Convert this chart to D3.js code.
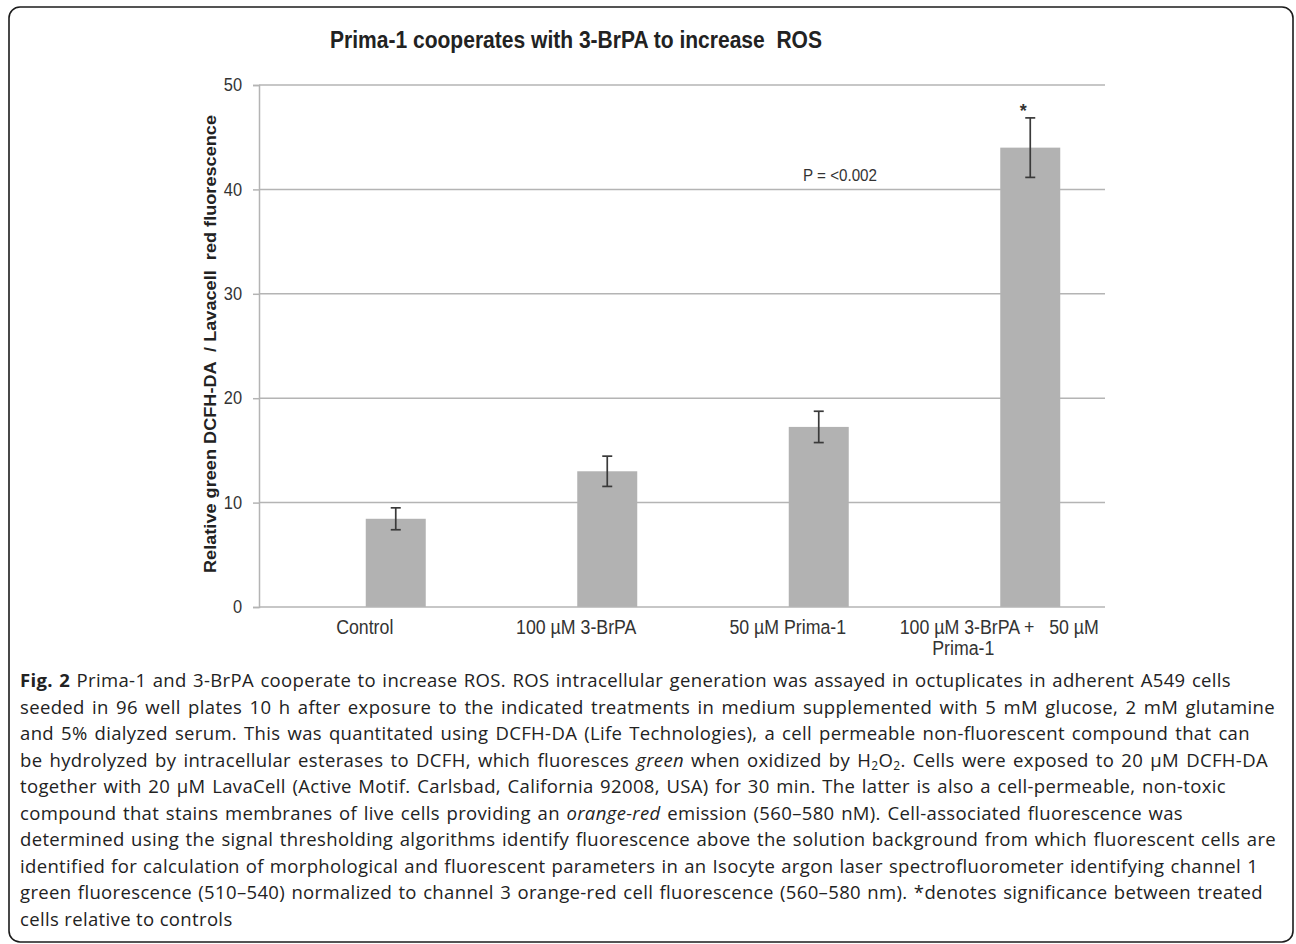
<!DOCTYPE html>
<html>
<head>
<meta charset="utf-8">
<script src="https://cdn.jsdelivr.net/npm/d3@7"></script>
<style>
  body { margin: 0; background: #fff; }
  svg { display: block; }
  svg text { white-space: pre; }
</style>
</head>
<body>
<div id="chart"></div>
<script>
// chart values
const categories = ["Control", "100 µM 3-BrPA", "50 µM Prima-1", "100 µM 3-BrPA +  50 µM Prima-1"];
const categoryLines = [["Control"], ["100 µM 3-BrPA"], ["50 µM Prima-1"], ["100 µM 3-BrPA +   50 µM", "Prima-1"]];
const means = [8.45, 13.0, 17.25, 44.0];
const errors = [1.05, 1.45, 1.5, 2.85];
const significant = [false, false, false, true];
const yTicks = [0, 10, 20, 30, 40, 50];

const titleText = "Prima-1 cooperates with 3-BrPA to increase  ROS";
const yLabelText = "Relative green DCFH-DA  / Lavacell  red fluorescence";
const pText = "P = <0.002";

// caption, one entry per printed line: [text, style]
const captionLines = [
  [["Fig. 2", "b"], [" Prima-1 and 3-BrPA cooperate to increase ROS. ROS intracellular generation was assayed in octuplicates in adherent A549 cells", ""]],
  [["seeded in 96 well plates 10 h after exposure to the indicated treatments in medium supplemented with 5 mM glucose, 2 mM glutamine", ""]],
  [["and 5% dialyzed serum. This was quantitated using DCFH-DA (Life Technologies), a cell permeable non-fluorescent compound that can", ""]],
  [["be hydrolyzed by intracellular esterases to DCFH, which fluoresces ", ""], ["green", "i"], [" when oxidized by H", ""], ["2", "sub"], ["O", ""], ["2", "sub"], [". Cells were exposed to 20 µM DCFH-DA", ""]],
  [["together with 20 µM LavaCell (Active Motif. Carlsbad, California 92008, USA) for 30 min. The latter is also a cell-permeable, non-toxic", ""]],
  [["compound that stains membranes of live cells providing an ", ""], ["orange-red", "i"], [" emission (560–580 nM). Cell-associated fluorescence was", ""]],
  [["determined using the signal thresholding algorithms identify fluorescence above the solution background from which fluorescent cells are", ""]],
  [["identified for calculation of morphological and fluorescent parameters in an Isocyte argon laser spectrofluorometer identifying channel 1", ""]],
  [["green fluorescence (510–540) normalized to channel 3 orange-red cell fluorescence (560–580 nm). *denotes significance between treated", ""]],
  [["cells relative to controls", ""]]
];
// right end of each caption line in the figure (null = natural width)
const captionEnds = [1231, 1275, 1250, 1268, 1226, 1183, 1276, 1258, 1263, null];

const W = 1296, H = 944;
const plot = { left: 259, right: 1105, top: 85, bottom: 607 };
const barWidth = 60;
const barShift = 31;   // bars sit right of the label slots in the original
const squeeze = 0.91;  // the chart image is stretched vertically, so its text looks narrow

const svg = d3.select("#chart").append("svg")
  .attr("width", W)
  .attr("height", H);

// squeeze text horizontally to mimic the stretched original
function narrowText(sel, ratio, target) {
  sel.each(function () {
    const w = target || this.getComputedTextLength() * ratio;
    d3.select(this).attr("textLength", w).attr("lengthAdjust", "spacingAndGlyphs");
  });
}

// rounded frame
svg.append("rect")
  .attr("x", 9).attr("y", 7)
  .attr("width", 1284).attr("height", 935)
  .attr("rx", 11)
  .attr("fill", "none")
  .attr("stroke", "#1c1c1c")
  .attr("stroke-width", 1.6);

const x = d3.scaleBand()
  .domain(categories)
  .range([plot.left, plot.right]);

const y = d3.scaleLinear()
  .domain([0, 50])
  .range([plot.bottom, plot.top]);

const arial = "'Liberation Sans', Arial, sans-serif";

// title
svg.append("text")
  .attr("x", 330)
  .attr("y", 48)
  .style("font-family", arial)
  .style("font-weight", "bold")
  .style("font-size", "23px")
  .attr("fill", "#222")
  .text(titleText)
  .call(narrowText, squeeze, 492);

// gridlines
svg.append("g")
  .selectAll("line")
  .data(yTicks.filter(d => d > 0))
  .join("line")
  .attr("x1", plot.left).attr("x2", plot.right)
  .attr("y1", d => y(d)).attr("y2", d => y(d))
  .attr("stroke", "#b4b4b4")
  .attr("stroke-width", 1.5);

// y axis
const yAxis = svg.append("g")
  .attr("transform", `translate(${plot.left},0)`)
  .call(d3.axisLeft(y).tickValues(yTicks).tickSize(6).tickPadding(11));
yAxis.select(".domain").attr("stroke", "#b4b4b4").attr("stroke-width", 1.5);
yAxis.selectAll(".tick line").attr("stroke", "#b4b4b4").attr("stroke-width", 1.5);
yAxis.selectAll(".tick text")
  .style("font-family", arial)
  .style("font-size", "18px")
  .attr("fill", "#333")
  .call(narrowText, squeeze);

// y label
svg.append("text")
  .attr("transform", `translate(216,344) rotate(-90)`)
  .attr("x", -229)
  .style("font-family", arial)
  .style("font-weight", "bold")
  .style("font-size", "16.5px")
  .attr("fill", "#222")
  .text(yLabelText)
  .call(narrowText, squeeze, 458);

// bars
const bx = d => x(d) + (x.bandwidth() - barWidth) / 2 + barShift;
const cx = d => bx(d) + barWidth / 2;

svg.append("g")
  .selectAll("rect")
  .data(categories)
  .join("rect")
  .attr("x", d => bx(d))
  .attr("y", (d, i) => y(means[i]))
  .attr("width", barWidth)
  .attr("height", (d, i) => y(0) - y(means[i]))
  .attr("fill", "#b2b2b2");

// baseline on top of bars
svg.append("line")
  .attr("x1", plot.left).attr("x2", plot.right)
  .attr("y1", y(0)).attr("y2", y(0))
  .attr("stroke", "#b4b4b4")
  .attr("stroke-width", 1.5);

// error bars
const eg = svg.append("g").attr("stroke", "#3a3a3a").attr("stroke-width", 1.7);
categories.forEach((c, i) => {
  const top = y(means[i] + errors[i]), bot = y(means[i] - errors[i]);
  eg.append("line").attr("x1", cx(c)).attr("x2", cx(c)).attr("y1", top).attr("y2", bot);
  eg.append("line").attr("x1", cx(c) - 5).attr("x2", cx(c) + 5).attr("y1", top).attr("y2", top);
  eg.append("line").attr("x1", cx(c) - 5).attr("x2", cx(c) + 5).attr("y1", bot).attr("y2", bot);
});

// significance star
svg.append("g")
  .selectAll("text")
  .data(categories.filter((c, i) => significant[i]))
  .join("text")
  .attr("x", d => cx(d) - 7)
  .attr("y", d => y(means[categories.indexOf(d)] + errors[categories.indexOf(d)]) - 1)
  .attr("text-anchor", "middle")
  .style("font-family", arial)
  .style("font-weight", "bold")
  .style("font-size", "18px")
  .attr("fill", "#333")
  .text("*");

// p value note
svg.append("text")
  .attr("x", 803)
  .attr("y", 181)
  .style("font-family", arial)
  .style("font-size", "16.5px")
  .attr("fill", "#333")
  .text(pText)
  .call(narrowText, squeeze, 74);

// category labels
const lab = svg.append("g")
  .style("font-family", arial)
  .style("font-size", "19.5px")
  .attr("fill", "#333");
categories.forEach((c, i) => {
  categoryLines[i].forEach((ln, j) => {
    lab.append("text")
      .attr("x", x(c) + x.bandwidth() / 2 - (j > 0 ? 36 : 0))
      .attr("y", 634 + j * 21)
      .attr("text-anchor", "middle")
      .text(ln)
      .call(narrowText, squeeze);
  });
});

// caption
const cap = svg.append("g")
  .style("font-family", "'Open Sans', 'Noto Sans', sans-serif")
  .style("font-size", "18.5px")
  .style("letter-spacing", "0.35px")
  .attr("fill", "#222");
captionLines.forEach((segs, i) => {
  const t = cap.append("text")
    .attr("x", 20)
    .attr("y", 687 + i * 26.5);
  segs.forEach(([s, st]) => {
    const sp = t.append("tspan").text(s);
    if (st === "b") sp.style("font-weight", "bold");
    if (st === "i") sp.style("font-style", "italic");
    if (st === "sub") sp.style("font-size", "12px").attr("baseline-shift", "-3");
  });
  if (captionEnds[i] != null) {
    const natural = t.node().getComputedTextLength();
    const spaces = segs.map(s => s[0]).join("").split(" ").length - 1;
    t.style("word-spacing", ((captionEnds[i] - 20 - natural) / spaces).toFixed(2) + "px");
  }
});
</script>
</body>
</html>
